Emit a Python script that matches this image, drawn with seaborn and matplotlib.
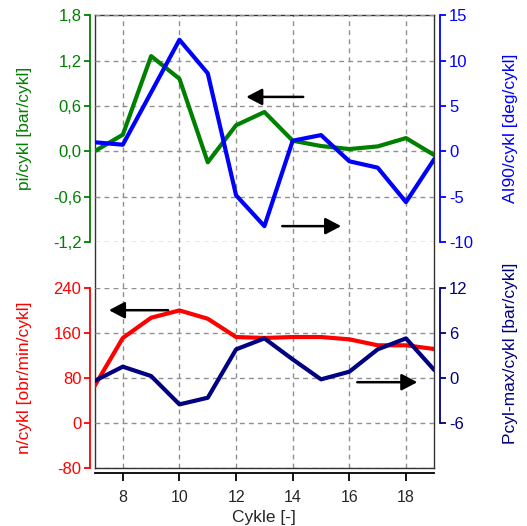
import numpy as np
import pandas as pd
import matplotlib
matplotlib.use("Agg")
import matplotlib.pyplot as plt
import matplotlib.ticker as mticker
import seaborn as sns

# ---- data ----
cycles = [7, 8, 9, 10, 11, 12, 13, 14, 15, 16, 17, 18, 19]
pi_cykl = [0.0, 0.22, 1.26, 0.96, -0.145, 0.345, 0.52, 0.14, 0.07, 0.03, 0.065, 0.175, -0.05]
ai90_cykl = [1.0, 0.73, 6.5, 12.3, 8.6, -4.85, -8.25, 1.17, 1.79, -1.1, -1.8, -5.6, -0.85]
n_cykl = [65, 150.6, 186.6, 199.6, 184.8, 152.3, 150.6, 152.3, 152.3, 148.2, 137.6, 137.6, 131]
pcyl_cykl = [-0.44, 1.47, 0.22, -3.56, -2.67, 3.78, 5.24, 2.44, -0.22, 0.8, 3.78, 5.24, 1.02]

x_ticks = [8, 10, 12, 14, 16, 18]
pi_ticks = [-1.2, -0.6, 0.0, 0.6, 1.2, 1.8]
ai_ticks = [-10, -5, 0, 5, 10, 15]
n_ticks = [-80, 0, 80, 160, 240]
pcyl_ticks = [-6, 0, 6, 12]

df = pd.DataFrame({"Cykle": cycles, "pi": pi_cykl, "ai90": ai90_cykl,
                   "n": n_cykl, "pcyl": pcyl_cykl})

sns.set_theme(style="white")
plt.rcParams['font.family'] = ['Liberation Sans', 'DejaVu Sans']
plt.rcParams['font.size'] = 10

GREEN = "#008000"
BLUE = "#0000FF"
RED = "#FF0000"
NAVY = "#000080"
GRID = "#909090"
LW = 3.0
TICK_FS = 12
LAB_FS = 12.5

fig = plt.figure(figsize=(5.27, 5.26), dpi=100)
W, H = 527.0, 526.0
left = 94.5 / W
width = (434.3 - 94.5) / W
fb = 1 - 467.7 / H
ft = 1 - 15.3 / H

# frame axes
axf = fig.add_axes([left, fb, width, ft - fb])
axf.set_facecolor("white")
axf.set_xlim(7, 19)
axf.set_xticks(x_ticks)
axf.set_yticks([])
axf.tick_params(axis="x", bottom=False, labelbottom=False)
for s in axf.spines.values():
    s.set_visible(True)
    s.set_color("#333333")
    s.set_linewidth(1.0)
axf.grid(axis="x", color=GRID, linestyle=(0, (3.5, 3)), linewidth=1.0)
axf.set_axisbelow(True)

def fmt_comma(v, pos):
    v = v + 0.0
    if abs(v) < 1e-9:
        v = 0.0
    return f"{v:.1f}".replace(".", ",")

def fmt_int(v, pos):
    v = int(round(v))
    return f"{v:d}"

def style_side(ax, side, color, ticks, formatter, offset):
    for k in ["top", "bottom", "left", "right"]:
        ax.spines[k].set_visible(False)
    sp = ax.spines[side]
    sp.set_visible(True)
    sp.set_color(color)
    sp.set_linewidth(1.3)
    sp.set_position(("outward", offset))
    ax.set_yticks(ticks)
    ax.yaxis.set_major_formatter(mticker.FuncFormatter(formatter))
    if side == "left":
        ax.tick_params(axis="y", left=True, right=False, labelleft=True, labelright=False,
                       direction="out", length=4, width=1.3, color=color,
                       labelcolor=color, labelsize=TICK_FS, pad=2.5)
    else:
        ax.tick_params(axis="y", left=False, right=True, labelleft=False, labelright=True,
                       direction="out", length=4, width=1.3, color=color,
                       labelcolor=color, labelsize=TICK_FS, pad=2.5)

# top panel
tb = 1 - 242.0 / H
axt = fig.add_axes([left, tb, width, ft - tb])
axt.patch.set_alpha(0)
axt.set_xlim(7, 19)
axt.set_ylim(-1.2, 1.8)
axt.set_xticks([])
style_side(axt, "left", GREEN, pi_ticks, fmt_comma, 2.9)
axt.grid(axis="y", color=GRID, linestyle=(0, (3.5, 3)), linewidth=1.0)
sns.lineplot(data=df, x="Cykle", y="pi", ax=axt, color=GREEN, linewidth=LW)
axt.set_xlabel("")
axt.set_ylabel("pi/cykl [bar/cykl]", color=GREEN, fontsize=LAB_FS, va="center")
axt.yaxis.set_label_coords((25 - 94.5) / 339.8, 0.5)

axt2 = axt.twinx()
axt2.patch.set_alpha(0)
axt2.set_xlim(7, 19)
axt2.set_ylim(-10, 15)
style_side(axt2, "right", BLUE, ai_ticks, fmt_int, 4.1)
sns.lineplot(data=df, x="Cykle", y="ai90", ax=axt2, color=BLUE, linewidth=LW)
axt2.set_xlabel("")
axt2.set_xticks([])
axt2.set_ylabel("AI90/cykl [deg/cykl]", color=BLUE, fontsize=LAB_FS, va="center", rotation=90)
axt2.yaxis.set_label_coords((511 - 94.5) / 339.8, 0.5)

# arrows top
ARROW = dict(arrowstyle="-|>,head_length=0.95,head_width=0.5",
             color="black", lw=1.8, shrinkA=0, shrinkB=0)
axt.annotate("", xy=(12.36, 0.72), xytext=(14.37, 0.72), arrowprops=ARROW)
axt.annotate("", xy=(15.71, -0.99), xytext=(13.63, -0.99), arrowprops=ARROW)

# bottom panel
bt = 1 - 287.7 / H
axb = fig.add_axes([left, fb, width, bt - fb])
axb.patch.set_alpha(0)
axb.set_xlim(7, 19)
axb.set_ylim(-80, 240)
style_side(axb, "left", RED, n_ticks, fmt_int, 2.9)
axb.spines["bottom"].set_visible(True)
axb.spines["bottom"].set_color("black")
axb.spines["bottom"].set_linewidth(1.3)
axb.spines["bottom"].set_position(("outward", 4))
axb.set_xticks(x_ticks)
axb.tick_params(axis="x", bottom=True, labelbottom=True, direction="out",
                length=6, width=1.3, color="black", labelsize=11.5, pad=6)
axb.grid(axis="y", color=GRID, linestyle=(0, (3.5, 3)), linewidth=1.0)
sns.lineplot(data=df, x="Cykle", y="n", ax=axb, color=RED, linewidth=LW)
axb.set_xlabel("Cykle [-]", fontsize=LAB_FS, labelpad=4)
axb.set_ylabel("n/cykl [obr/min/cykl]", color=RED, fontsize=LAB_FS, va="center")
axb.yaxis.set_label_coords((25 - 94.5) / 339.8, 0.5)

axb2 = axb.twinx()
axb2.patch.set_alpha(0)
axb2.set_xlim(7, 19)
axb2.set_ylim(-12, 12)
style_side(axb2, "right", NAVY, pcyl_ticks, fmt_int, 4.1)
axb2.spines["right"].set_bounds(-6, 12)
sns.lineplot(data=df, x="Cykle", y="pcyl", ax=axb2, color=NAVY, linewidth=LW)
axb2.set_xlabel("")
axb2.set_ylabel("Pcyl-max/cykl [bar/cykl]", color=NAVY, fontsize=LAB_FS, va="center", rotation=90)
axb2.yaxis.set_label_coords((511 - 94.5) / 339.8, 1 - (353 - 287.7) / 180.0)

axb2.annotate("", xy=(7.51, 9.0), xytext=(9.6, 9.0), arrowprops=ARROW)
axb2.annotate("", xy=(18.4, -0.6), xytext=(16.28, -0.6), arrowprops=ARROW)

fig.savefig("out.png", dpi=100)
